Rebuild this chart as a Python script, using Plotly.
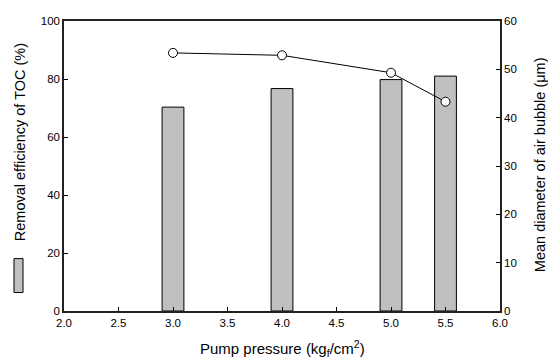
import plotly.graph_objects as go

pressure = [3.0, 4.0, 5.0, 5.5]
toc_removal = [70.3, 76.7, 79.8, 81.0]
bubble_diameter = [53.4, 52.9, 49.3, 43.3]

x_ticks = [2.0, 2.5, 3.0, 3.5, 4.0, 4.5, 5.0, 5.5, 6.0]

font = "Liberation Sans, Arial, sans-serif"

fig = go.Figure()
fig.add_trace(go.Bar(
    x=pressure, y=toc_removal, width=0.2,
    marker=dict(color="#c0c0c0", line=dict(color="black", width=1)),
    yaxis="y", showlegend=False,
))
fig.add_trace(go.Scatter(
    x=pressure, y=bubble_diameter, mode="lines+markers",
    line=dict(color="black", width=1),
    marker=dict(symbol="circle", size=9, color="white", line=dict(color="black", width=1)),
    yaxis="y2", showlegend=False,
))

fig.update_layout(
    width=548, height=360,
    margin=dict(l=64, r=48, t=21, b=48.5),
    plot_bgcolor="white", paper_bgcolor="white",
    font=dict(family=font, size=11.5, color="black"),
    xaxis=dict(
        range=[2.0, 6.0], tickvals=x_ticks, ticktext=[f"{v:.1f}" for v in x_ticks],
        ticks="inside", ticklen=4, tickcolor="black", showgrid=False, zeroline=False,
        showline=True, linecolor="#222", linewidth=1.5, mirror=True,
    ),
    yaxis=dict(
        range=[0, 100], dtick=20, ticks="inside", ticklen=4, tickcolor="black",
        showgrid=False, zeroline=False, showline=True, linecolor="#222", linewidth=1.5,
    ),
    yaxis2=dict(
        range=[0, 60], dtick=10, ticks="inside", ticklen=4, tickcolor="black",
        overlaying="y", side="right", showgrid=False, zeroline=False,
        showline=True, linecolor="#222", linewidth=1.5,
    ),
    annotations=[
        dict(text="Removal efficiency of TOC (%)", xref="paper", yref="paper",
             x=-0.101, y=0.582, xanchor="center", yanchor="middle", textangle=-90,
             showarrow=False, font=dict(size=14.5)),
        dict(text="Mean diameter of air bubble (\u03bcm)", xref="paper", yref="paper",
             x=1.0925, y=0.504, xanchor="center", yanchor="middle", textangle=-90,
             showarrow=False, font=dict(size=14.5)),
        dict(text="Pump pressure (kg<sub>f</sub>/cm<sup>2</sup>)", xref="paper", yref="paper",
             x=0.5, y=-0.131, xanchor="center", yanchor="middle",
             showarrow=False, font=dict(size=15)),
    ],
    shapes=[
        dict(type="rect", xref="paper", yref="paper",
             x0=-0.1147, x1=-0.094, y0=0.0637, y1=0.1807,
             fillcolor="#c0c0c0", line=dict(color="black", width=1)),
    ],
)

fig.write_html(
    "out.html",
    config={"displayModeBar": False},
    post_script="document.body.style.margin='0';document.body.style.overflow='hidden';",
)
